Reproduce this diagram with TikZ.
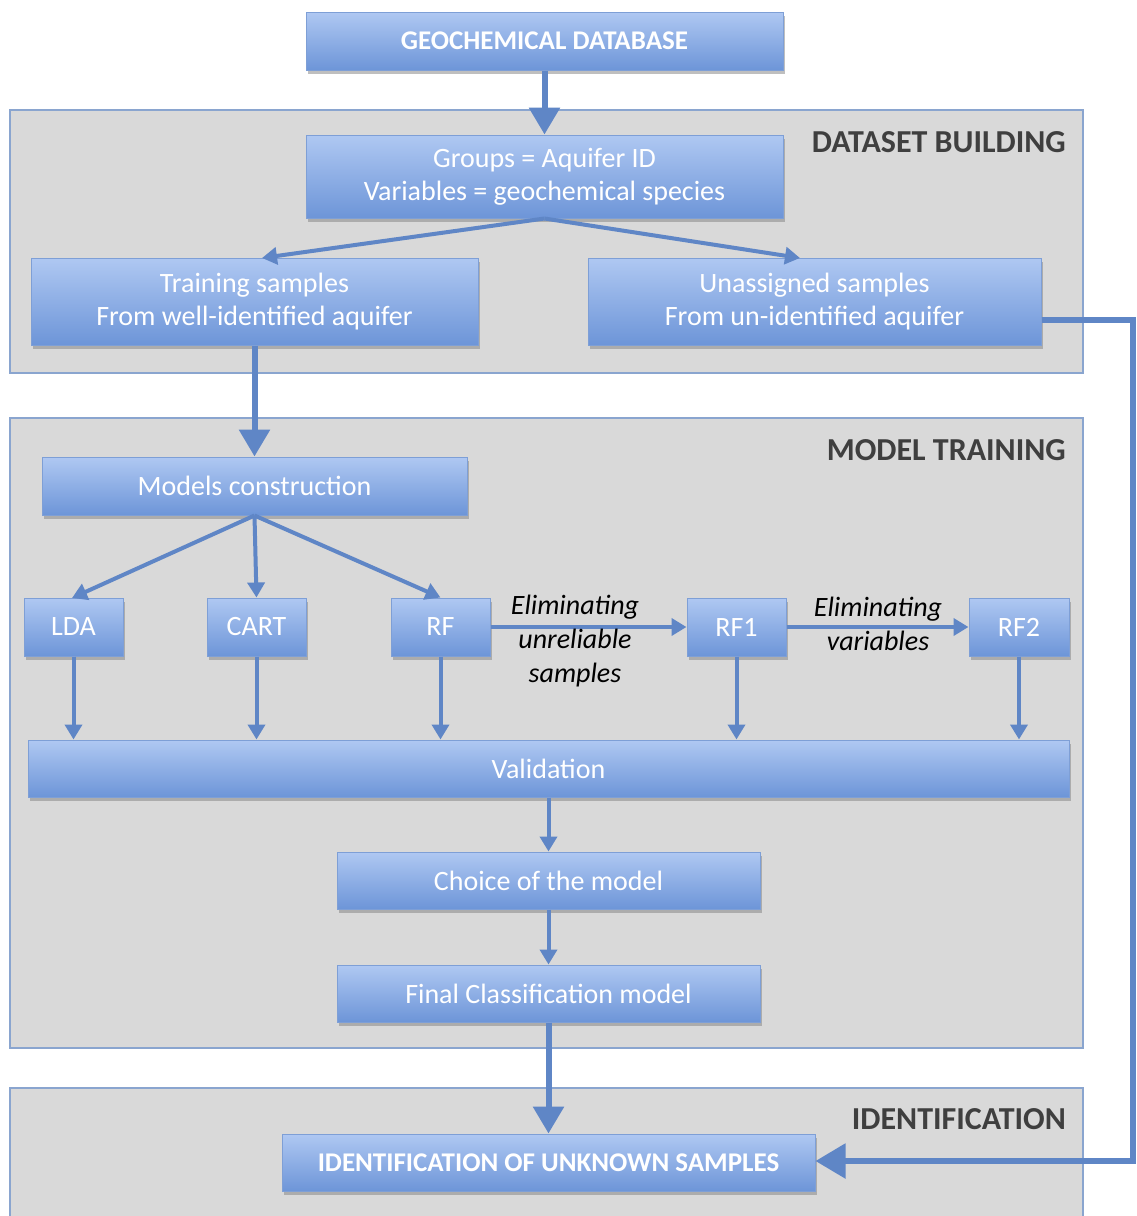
\documentclass[tikz,border=0pt]{standalone}
\usepackage{fontspec}
\setmainfont{Carlito}
\usetikzlibrary{arrows.meta,shadows,positioning}
\definecolor{boxtop}{HTML}{AFC8F2}
\definecolor{boxbot}{HTML}{6D95D8}
\definecolor{boxedge}{HTML}{7E9FD6}
\definecolor{arrowc}{HTML}{5F86C6}
\definecolor{panelfill}{HTML}{D9D9D9}
\definecolor{paneledge}{HTML}{8AA5CF}
\definecolor{labelc}{HTML}{3F3F3F}
\tikzset{
  flowbox/.style={draw=boxedge, line width=1pt, top color=boxtop, bottom color=boxbot,
    text=white, align=center, inner sep=0pt,
    font=\fontsize{28}{33}\selectfont,
    drop shadow={opacity=0.5, shadow xshift=2pt, shadow yshift=-4pt}},
  panel/.style={draw=paneledge, line width=1.2pt, fill=panelfill},
  panellabel/.style={anchor=east, text=labelc, font=\bfseries\fontsize{32}{36}\selectfont, inner sep=0pt},
  bigarrow/.style={draw=arrowc, line width=6pt, -{Triangle[width=30pt,length=27pt]}},
  thinarrow/.style={draw=arrowc, line width=4pt, -{Triangle[width=17pt,length=15pt]}},
  edgelabel/.style={font=\itshape\fontsize{28}{34}\selectfont, align=center, text=black, inner sep=0pt}
}
\begin{document}
\begin{tikzpicture}[x=1pt,y={(0pt,-1pt)}]
\useasboundingbox (0,0) rectangle (1136,1216);
\fill[white] (0,0) rectangle (1136,1216);
% panels
\draw[panel] (10,110) rectangle (1083,373);
\draw[panel] (10,418) rectangle (1083,1048);
\draw[panel] (10,1088) rectangle (1083,1240);
\node[panellabel] (lblds) at (1066,142) {DATASET BUILDING};
\node[panellabel] (lblmt) at (1066,450) {MODEL TRAINING};
\node[panellabel] (lblid) at (1066,1119) {IDENTIFICATION};
% boxes
\node[flowbox, minimum width=477pt, minimum height=58pt, font=\bfseries\fontsize{27}{30}\selectfont] (db) at (544.5,41) {GEOCHEMICAL DATABASE};
\node[flowbox, minimum width=477pt, minimum height=83pt] (groups) at (544.5,176.5) {Groups = Aquifer ID\\Variables = geochemical species};
\node[flowbox, minimum width=447pt, minimum height=87pt] (train) at (254.5,301.5) {Training samples\\From well-identified aquifer};
\node[flowbox, minimum width=453pt, minimum height=87pt] (unass) at (814.5,301.5) {Unassigned samples\\From un-identified aquifer};
\node[flowbox, minimum width=425pt, minimum height=58pt] (models) at (254.5,486) {Models construction};
\node[flowbox, minimum width=99pt, minimum height=58pt] (lda) at (73.5,627) {LDA};
\node[flowbox, minimum width=99pt, minimum height=58pt] (cart) at (256.5,627) {CART};
\node[flowbox, minimum width=99pt, minimum height=58pt] (rf) at (440.5,627) {RF};
\node[flowbox, minimum width=99pt, minimum height=58pt] (rf1) at (736.5,627) {RF1};
\node[flowbox, minimum width=100pt, minimum height=58pt] (rf2) at (1019,627) {RF2};
\node[flowbox, minimum width=1041pt, minimum height=57pt] (valid) at (548.5,768.5) {Validation};
\node[flowbox, minimum width=423pt, minimum height=57pt] (choice) at (548.5,880.5) {Choice of the model};
\node[flowbox, minimum width=423pt, minimum height=57pt] (final) at (548.5,993.5) {Final Classification model};
\node[flowbox, minimum width=533pt, minimum height=57pt, font=\bfseries\fontsize{27}{30}\selectfont] (ident) at (548.5,1162.5) {IDENTIFICATION OF UNKNOWN SAMPLES};
% connectors
\draw[bigarrow] (db.south) -- (groups.north);
\coordinate (gtl) at (262,258);
\coordinate (gtr) at (800,258);
\draw[thinarrow] (groups.south) -- (gtl);
\draw[thinarrow] (groups.south) -- (gtr);
\draw[bigarrow] (train.south) -- (train.south |- models.north);
\coordinate (mlda) at (72,598);
\draw[thinarrow] (models.south) -- (mlda);
\draw[thinarrow] (models.south) -- (cart.north);
\draw[thinarrow] (models.south) -- (rf.north);
\draw[thinarrow] (rf.east) -- (rf1.west);
\draw[thinarrow] (rf1.east) -- (rf2.west);
\node[edgelabel] (el1) at (575,641) {Eliminating\\unreliable\\samples};
\node[edgelabel] (el2) at (878,624) {Eliminating\\variables};
\foreach \n in {lda,cart,rf,rf1,rf2}
  \draw[thinarrow] (\n.south) -- (\n.south |- valid.north);
\draw[thinarrow] (valid.south) -- (choice.north);
\draw[thinarrow] (choice.south) -- (final.north);
\draw[bigarrow] (final.south) -- (ident.north);
\coordinate (rc1) at (1133,320);
\coordinate (rc2) at (1133,1161);
\draw[draw=arrowc, line width=5.5pt, -{Triangle[width=34pt,length=30pt]}] (unass.east |- rc1) -- (rc1) -- (rc2) -- (ident.east |- rc2);
\end{tikzpicture}
\end{document}
